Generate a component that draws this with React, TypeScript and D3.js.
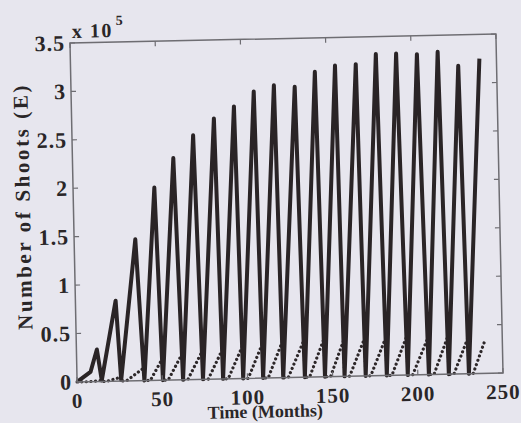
import React from 'react';
import * as d3 from 'd3';

// Values of E in units of 1e5
const earlyT = [0, 8];
const earlyE = [0, 0.1];
const peakT = [12, 23.6, 35.9, 47.7, 59.2, 71.1, 83.5, 95.4, 107.2, 119.1, 131.3, 143.3, 155.2, 167.4, 179.3, 191.2, 203.4, 215.6, 227.5, 240];
const peakE = [0.33, 0.83, 1.46, 1.99, 2.29, 2.52, 2.69, 2.81, 2.96, 3.02, 3.0, 3.15, 3.21, 3.22, 3.32, 3.32, 3.31, 3.33, 3.18, 3.25];
const troughT = [14.5, 25.9, 39.5, 50.4, 62.2, 73.9, 85.7, 97.5, 109.2, 121, 133.7, 145.5, 157, 169.4, 181.8, 194.1, 206.5, 218.2, 230];
const troughE = [0.01, 0.01, 0, 0, 0, 0, 0, 0, 0, 0, 0, 0, 0, 0, 0, 0, 0, 0, 0];
const dotStartT = [7, 17.5, 29, 43, 53.5, 65, 77, 88.7, 100.5, 112.2, 124, 136.5, 148.8, 160, 172.4, 184.8, 197, 209.5, 221.2, 232.5];
const dotTopE = [0.01, 0.04, 0.13, 0.22, 0.27, 0.29, 0.3, 0.33, 0.35, 0.37, 0.38, 0.39, 0.37, 0.39, 0.39, 0.4, 0.38, 0.39, 0.37, 0.35];
const dotEndT = 240;

const xTicks = [0, 50, 100, 150, 200, 250];
const yTicks = [0, 0.5, 1, 1.5, 2, 2.5, 3, 3.5];
const yTickLabels = ['0', '0.5', '1', '1.5', '2', '2.5', '3', '3.5'];

export default function App() {
  React.useEffect(() => {
    document.body.style.margin = '0';
  }, []);
  const W = 521, H = 423;
  const L = 73.5, R = 499.5, T = 38.5, B = 377.5;
  const x = d3.scaleLinear().domain([0, 250]).range([L, R]);
  const y = d3.scaleLinear().domain([0, 3.5]).range([B, T]);

  const solid: [number, number][] = [];
  earlyT.forEach((t, i) => solid.push([t, earlyE[i]]));
  peakT.forEach((t, i) => {
    solid.push([t, peakE[i]]);
    if (i < troughT.length) solid.push([troughT[i], troughE[i]]);
  });

  const dotted: [number, number][] = [[0, 0]];
  dotStartT.forEach((t, i) => {
    dotted.push([t, 0]);
    if (i < troughT.length) {
      dotted.push([troughT[i] - 0.15, dotTopE[i]]);
      dotted.push([troughT[i], 0]);
    } else {
      dotted.push([dotEndT, dotTopE[i]]);
    }
  });

  const line = d3.line<[number, number]>().x(d => x(d[0])).y(d => y(d[1]));
  const tstyle: React.CSSProperties = { fontFamily: 'Liberation Serif, serif', fontWeight: 700 };
  const txt = '#2a2628';
  const axisCol = '#6e6d72';
  const tl = 5;

  return (
    <svg width={W} height={H} style={{ display: 'block' }} xmlns="http://www.w3.org/2000/svg">
      <rect x={0} y={0} width={W} height={H} fill="#e7e6ee" />
      <g transform="rotate(-1.2, 286.5, 208)">
        <path d={line(dotted) || ''} fill="none" stroke="#2d2729" strokeWidth={3.2}
          strokeDasharray="0.01 4.6" strokeLinecap="round" />
        <path d={line(solid) || ''} fill="none" stroke="#2a2426" strokeWidth={4}
          strokeLinejoin="round" />
        <rect x={L} y={T} width={R - L} height={B - T} fill="none" stroke={axisCol} strokeWidth={1.5} />
        {xTicks.map(v => (
          <g key={'xt' + v}>
            <line x1={x(v)} x2={x(v)} y1={B} y2={B - tl} stroke={axisCol} strokeWidth={1.2} />
            <line x1={x(v)} x2={x(v)} y1={T} y2={T + tl} stroke={axisCol} strokeWidth={1.2} />
            <text x={x(v)} y={B + 26} textAnchor="middle" style={tstyle}
              fontSize={21} letterSpacing={1} fill={txt}>{v}</text>
          </g>
        ))}
        {yTicks.map((v, i) => (
          <g key={'yt' + v}>
            <line x1={L} x2={L + tl} y1={y(v)} y2={y(v)} stroke={axisCol} strokeWidth={1.2} />
            <line x1={R} x2={R - tl} y1={y(v)} y2={y(v)} stroke={axisCol} strokeWidth={1.2} />
            <text x={L - 5} y={y(v) + 7.5} textAnchor="end" style={tstyle}
              fontSize={22} letterSpacing={1} fill={txt}>{yTickLabels[i]}</text>
          </g>
        ))}
        <text x={L + 2} y={T - 5} style={tstyle} fontSize={20} letterSpacing={1.5} fill={txt}>x 10</text>
        <text x={L + 46} y={T - 17} style={tstyle} fontSize={14} fill={txt}>5</text>
        <text x={261} y={417} textAnchor="middle" style={tstyle} fontSize={18} fill={txt}>Time (Months)</text>
        <text transform="translate(30,201) rotate(-90)" textAnchor="middle" style={tstyle}
          fontSize={21} letterSpacing={2.6} fill={txt}>Number of Shoots (E)</text>
      </g>
    </svg>
  );
}
